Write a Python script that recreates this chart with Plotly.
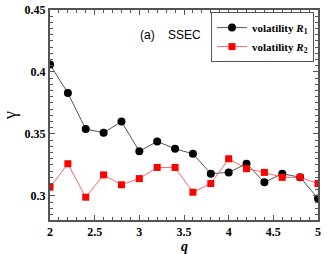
import plotly.graph_objects as go

q = [2.0, 2.2, 2.4, 2.6, 2.8, 3.0, 3.2, 3.4, 3.6, 3.8, 4.0, 4.2, 4.4, 4.6, 4.8, 5.0]
gamma_r1 = [0.406, 0.383, 0.354, 0.351, 0.360, 0.336, 0.344, 0.338, 0.334, 0.318,
            0.319, 0.326, 0.311, 0.318, 0.315, 0.298]
gamma_r2 = [0.307, 0.326, 0.299, 0.317, 0.309, 0.314, 0.323, 0.323, 0.303, 0.310,
            0.330, 0.322, 0.319, 0.315, 0.315, 0.310]

serif = "Liberation Serif"

fig = go.Figure()
fig.add_trace(go.Scatter(
    x=q, y=gamma_r1, mode="lines+markers",
    name="<b>volatility <i>R</i><sub>1</sub></b>",
    line=dict(color="#555555", width=1),
    marker=dict(symbol="circle", size=8, color="black"),
))
fig.add_trace(go.Scatter(
    x=q, y=gamma_r2, mode="lines+markers",
    name="<b>volatility <i>R</i><sub>2</sub></b>",
    line=dict(color="#ff6666", width=1),
    marker=dict(symbol="square", size=7, color="red"),
))

axis_common = dict(
    showline=True, linecolor="#555555", linewidth=2, mirror="allticks",
    ticks="inside", ticklen=5, tickcolor="#555555", tickwidth=1,
    showgrid=False, zeroline=False, automargin=False,
    ticklabeloverflow="allow",
    tickfont=dict(family=serif, size=12, color="black", weight="bold"),
)

fig.update_xaxes(
    range=[2, 5], tickvals=[2, 2.5, 3, 3.5, 4, 4.5, 5],
    ticktext=["2", "2.5", "3", "3.5", "4", "4.5", "5"],
    minor=dict(dtick=0.1, ticks="inside", ticklen=3, tickcolor="#555555"),
    **axis_common,
)
fig.update_yaxes(
    range=[0.2806, 0.45], tickvals=[0.3, 0.35, 0.4, 0.45],
    ticktext=["0.3", "0.35", "0.4", "0.45"],
    minor=dict(dtick=0.005, tick0=0.3, ticks="inside", ticklen=3, tickcolor="#555555"),
    title=dict(text="γ", font=dict(family=serif, size=18, color="black"), standoff=12),
    **axis_common,
)

fig.add_annotation(
    x=0.448, y=0.88, xref="paper", yref="paper", text="(a)    SSEC",
    showarrow=False, font=dict(family="Liberation Sans", size=12, color="black"),
    xanchor="center", yanchor="middle",
)
fig.add_annotation(
    x=0.5, y=-0.127, xref="paper", yref="paper", text="<b><i>q</i></b>",
    showarrow=False, font=dict(family=serif, size=14, color="black"),
    xanchor="center", yanchor="middle", borderpad=0,
)

fig.update_layout(
    width=327, height=254,
    margin=dict(l=50, r=9, t=10, b=34),
    plot_bgcolor="white", paper_bgcolor="white",
    showlegend=True,
    legend=dict(
        x=0.985, y=0.99, xanchor="right", yanchor="top",
        bordercolor="#555555", borderwidth=1, bgcolor="white",
        font=dict(family=serif, size=11, color="black"),
        itemwidth=30, tracegroupgap=0,
    ),
)

fig.write_html(
    "out.html",
    config={"displayModeBar": False},
    post_script="document.body.style.margin='0';document.body.style.overflow='hidden';",
)
